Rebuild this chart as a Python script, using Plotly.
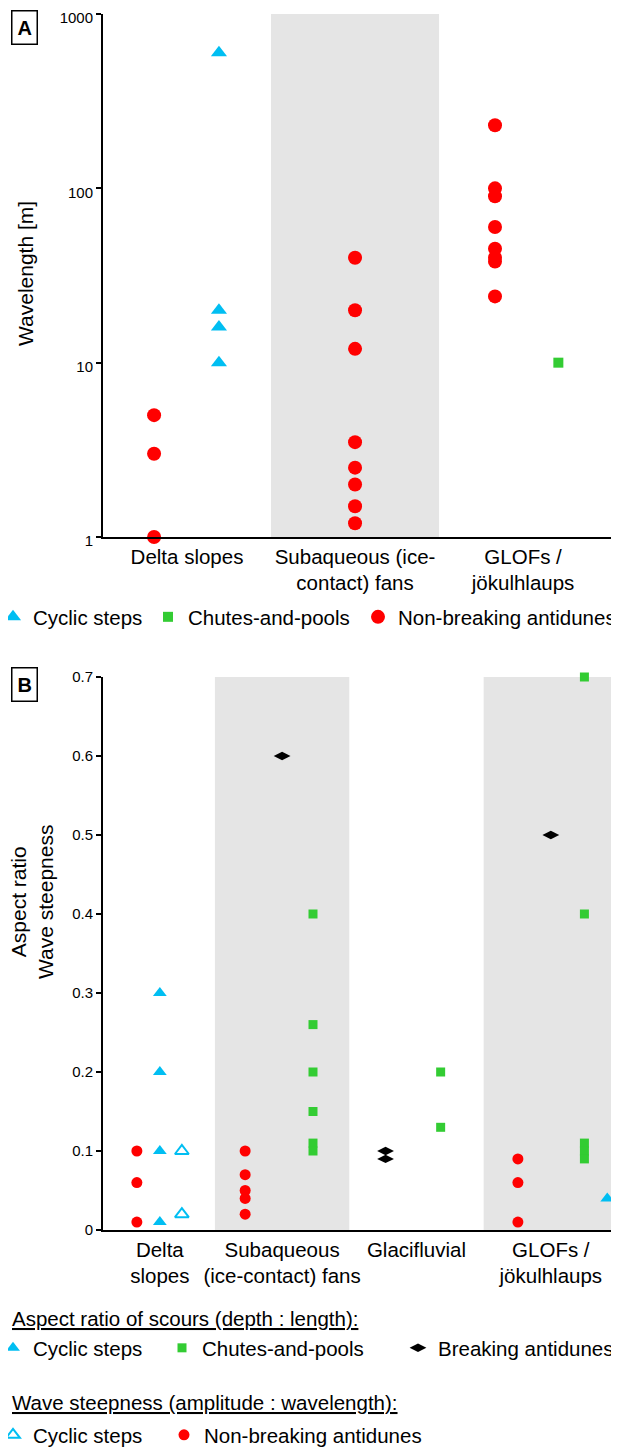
import plotly.graph_objects as go

FONT = "Liberation Sans, Arial, sans-serif"
CYAN = "#00BEF2"
GREEN = "#33CC33"
RED = "#FF0000"
BLACK = "#000000"

# ---------------- Panel A data (wavelength, m) ----------------
cats_a = ["Delta slopes", "Subaqueous (ice-<br>contact) fans", "GLOFs /<br>jökulhlaups"]
a_yticks = [1, 10, 100, 1000]
a_cyclic_delta = [600, 20, 16, 10]
a_chutes_glof = [10]
a_nonbreak_delta = [5, 3, 1]
a_nonbreak_subaq = [40, 20, 12, 3.5, 2.5, 2, 1.5, 1.2]
a_nonbreak_glof = [230, 100, 90, 60, 45, 40, 38, 24]

# ---------------- Panel B data (aspect ratio / wave steepness) ----------------
cats_b = ["Delta<br>slopes", "Subaqueous<br>(ice-contact) fans", "Glacifluvial", "GLOFs /<br>jökulhlaups"]
b_yticks = [0, 0.1, 0.2, 0.3, 0.4, 0.5, 0.6, 0.7]
# aspect ratio of scours
b_cyclic_delta = [0.3, 0.2, 0.1, 0.01]
b_cyclic_glof = [0.04]
b_chutes_subaq = [0.4, 0.26, 0.2, 0.15, 0.11, 0.10]
b_chutes_glacif = [0.2, 0.13]
b_chutes_glof = [0.7, 0.4, 0.11, 0.10, 0.09]
b_breaking_subaq = [0.6]
b_breaking_glacif = [0.1, 0.09]
b_breaking_glof = [0.5]
# wave steepness
b_steep_cyclic_delta = [0.1, 0.02]
b_steep_nonbreak_delta = [0.1, 0.06, 0.01]
b_steep_nonbreak_subaq = [0.1, 0.07, 0.05, 0.04, 0.02]
b_steep_nonbreak_glof = [0.09, 0.06, 0.01]

# ---------------- layout helpers (positions, not data) ----------------
pos_a = [0.5, 1.5, 2.5]            # category centres, panel A
pos_b = [0.59, 1.5, 2.5, 3.5]      # category centres, panel B


def xs(center, offset, vals):
    return [center + offset] * len(vals)


OFF = 8                       # default page margin around the plot div
W, H = 619 - OFF, 1447 - OFF  # figure size so that it ends at the window edge
ML, MR, MT, MB = 95, 1, 6, 217
PW, PH = W - ML - MR, H - MT - MB
TXT = 20.5


def px_x(page_px):
    return (page_px - OFF - ML) / PW


def px_y(page_py):
    return (H - MB - (page_py - OFF)) / PH


fig = go.Figure()

# ---- Panel A traces ----
fig.add_trace(go.Scatter(
    x=xs(pos_a[0], 0.19, a_cyclic_delta), y=a_cyclic_delta, mode="markers",
    marker=dict(symbol="triangle-up", size=14, color=CYAN), name="Cyclic steps",
    xaxis="x", yaxis="y", legend="legend", showlegend=True, cliponaxis=False))
fig.add_trace(go.Scatter(
    x=xs(pos_a[2], 0.21, a_chutes_glof), y=a_chutes_glof, mode="markers",
    marker=dict(symbol="square", size=10, color=GREEN), name="Chutes-and-pools",
    xaxis="x", yaxis="y", legend="legend2", showlegend=True, cliponaxis=False))
fig.add_trace(go.Scatter(
    x=xs(pos_a[0], -0.196, a_nonbreak_delta) + xs(pos_a[1], 0.0, a_nonbreak_subaq)
    + xs(pos_a[2], -0.167, a_nonbreak_glof),
    y=a_nonbreak_delta + a_nonbreak_subaq + a_nonbreak_glof, mode="markers",
    marker=dict(symbol="circle", size=14, color=RED), name="Non-breaking antidunes",
    xaxis="x", yaxis="y", legend="legend3", showlegend=True, cliponaxis=False))

# ---- Panel B traces ----
fig.add_trace(go.Scatter(
    x=xs(pos_b[0], 0.0, b_cyclic_delta) + xs(pos_b[3], 0.42, b_cyclic_glof),
    y=b_cyclic_delta + b_cyclic_glof, mode="markers",
    marker=dict(symbol="triangle-up", size=12, color=CYAN), name="Cyclic steps",
    xaxis="x2", yaxis="y2", legend="legend4", showlegend=True, cliponaxis=False))
fig.add_trace(go.Scatter(
    x=xs(pos_b[1], 0.23, b_chutes_subaq) + xs(pos_b[2], 0.18, b_chutes_glacif)
    + xs(pos_b[3], 0.25, b_chutes_glof),
    y=b_chutes_subaq + b_chutes_glacif + b_chutes_glof, mode="markers",
    marker=dict(symbol="square", size=9, color=GREEN), name="Chutes-and-pools",
    xaxis="x2", yaxis="y2", legend="legend5", showlegend=True, cliponaxis=False))
fig.add_trace(go.Scatter(
    x=xs(pos_b[1], 0.0, b_breaking_subaq) + xs(pos_b[2], -0.23, b_breaking_glacif)
    + xs(pos_b[3], 0.0, b_breaking_glof),
    y=b_breaking_subaq + b_breaking_glacif + b_breaking_glof, mode="markers",
    marker=dict(symbol="diamond-wide", size=12, color=BLACK), name="Breaking antidunes",
    xaxis="x2", yaxis="y2", legend="legend6", showlegend=True, cliponaxis=False))
fig.add_trace(go.Scatter(
    x=xs(pos_b[0], 0.164, b_steep_cyclic_delta), y=b_steep_cyclic_delta, mode="markers",
    marker=dict(symbol="triangle-up-open", size=12, color=CYAN, line=dict(width=2, color=CYAN)),
    name="Cyclic steps", xaxis="x2", yaxis="y2", legend="legend7", showlegend=True,
    cliponaxis=False))
fig.add_trace(go.Scatter(
    x=xs(pos_b[0], -0.171, b_steep_nonbreak_delta) + xs(pos_b[1], -0.275, b_steep_nonbreak_subaq)
    + xs(pos_b[3], -0.245, b_steep_nonbreak_glof),
    y=b_steep_nonbreak_delta + b_steep_nonbreak_subaq + b_steep_nonbreak_glof, mode="markers",
    marker=dict(symbol="circle", size=11, color=RED), name="Non-breaking antidunes",
    xaxis="x2", yaxis="y2", legend="legend8", showlegend=True, cliponaxis=False))

# ---- shaded bands ----
shapes = [
    dict(type="rect", xref="x", yref="y domain", x0=1, x1=2, y0=0, y1=1,
         fillcolor="#E5E5E5", line=dict(width=0), layer="below"),
    dict(type="rect", xref="x2", yref="y2 domain", x0=1, x1=2, y0=0, y1=1,
         fillcolor="#E5E5E5", line=dict(width=0), layer="below"),
    dict(type="rect", xref="x2", yref="y2 domain", x0=3, x1=4, y0=0, y1=1,
         fillcolor="#E5E5E5", line=dict(width=0), layer="below"),
]

axis_common = dict(showgrid=False, zeroline=False, showline=True, linecolor="black",
                   linewidth=2, tickfont=dict(size=15, family=FONT, color="black"))


def legend_at(left_page_px, y_page_px, indent=0):
    # legend placed in container coordinates so it never pushes the margins
    return dict(x=max(0.0, (left_page_px - OFF) / W), y=1 - (y_page_px - OFF) / H,
                xref="container", yref="container",
                xanchor="left", yanchor="middle", indentation=indent,
                orientation="h", bgcolor="rgba(0,0,0,0)", borderwidth=0,
                font=dict(size=TXT, family=FONT, color="black"),
                itemclick=False, itemdoubleclick=False)


annotations = [
    dict(text="<b>A</b>", x=px_x(24.5), y=px_y(28), xref="paper", yref="paper",
         showarrow=False, font=dict(size=20, family=FONT, color="black"),
         bordercolor="black", borderwidth=1.5, borderpad=5, xanchor="center", yanchor="middle"),
    dict(text="<b>B</b>", x=px_x(24.5), y=px_y(684), xref="paper", yref="paper",
         showarrow=False, font=dict(size=20, family=FONT, color="black"),
         bordercolor="black", borderwidth=1.5, borderpad=5, xanchor="center", yanchor="middle"),
    dict(text="Wavelength [m]", x=px_x(26), y=px_y(274), xref="paper", yref="paper",
         showarrow=False, textangle=-90, font=dict(size=21, family=FONT, color="black"),
         xanchor="center", yanchor="middle"),
    dict(text="Aspect ratio<br>Wave steepness", x=px_x(32), y=px_y(902), xref="paper", yref="paper",
         showarrow=False, textangle=-90, font=dict(size=21, family=FONT, color="black"),
         xanchor="center", yanchor="middle"),
    dict(text="<u>Aspect ratio of scours (depth : length):</u>", x=px_x(10), y=px_y(1318),
         xref="paper", yref="paper", showarrow=False, xanchor="left", yanchor="middle",
         font=dict(size=TXT, family=FONT, color="black")),
    dict(text="<u>Wave steepness (amplitude : wavelength):</u>", x=px_x(10), y=px_y(1402),
         xref="paper", yref="paper", showarrow=False, xanchor="left", yanchor="middle",
         font=dict(size=TXT, family=FONT, color="black")),
]

fig.update_layout(
    width=W, height=H, margin=dict(l=ML, r=MR, t=MT, b=MB, autoexpand=False),
    paper_bgcolor="white", plot_bgcolor="white", showlegend=True,
    font=dict(family=FONT, color="black"),
    xaxis=dict(axis_common, domain=[0, 1], range=[0, 3.065], anchor="y",
               tickvals=pos_a, ticktext=cats_a, ticks="",
               tickfont=dict(size=TXT, family=FONT, color="black")),
    yaxis=dict(axis_common, domain=[px_y(537), 1], type="log", range=[0, 3], anchor="x",
               tickvals=a_yticks, ticktext=[str(v) for v in a_yticks],
               ticklabeloverflow="allow", ticklabelshift=4,
               ticks="outside", ticklen=5, tickwidth=1.5, tickcolor="black"),
    xaxis2=dict(axis_common, domain=[0, 1], range=[0.167, 4.0], anchor="y2",
                tickvals=pos_b, ticktext=cats_b, ticks="",
                tickfont=dict(size=TXT, family=FONT, color="black")),
    yaxis2=dict(axis_common, domain=[0, px_y(677)], range=[0, 0.7], anchor="x2",
                tickvals=b_yticks, ticktext=[f"{v:g}" for v in b_yticks],
                ticklabeloverflow="allow",
                ticks="outside", ticklen=5, tickwidth=1.5, tickcolor="black"),
    shapes=shapes,
    annotations=annotations,
    legend=legend_at(OFF, 617, indent=-15),
    legend2=legend_at(148, 617),
    legend3=legend_at(358, 617),
    legend4=legend_at(OFF, 1348, indent=-15),
    legend5=legend_at(162, 1348),
    legend6=legend_at(398, 1348),
    legend7=legend_at(OFF, 1435, indent=-15),
    legend8=legend_at(164, 1435),
)

fig.write_html("out.html")
